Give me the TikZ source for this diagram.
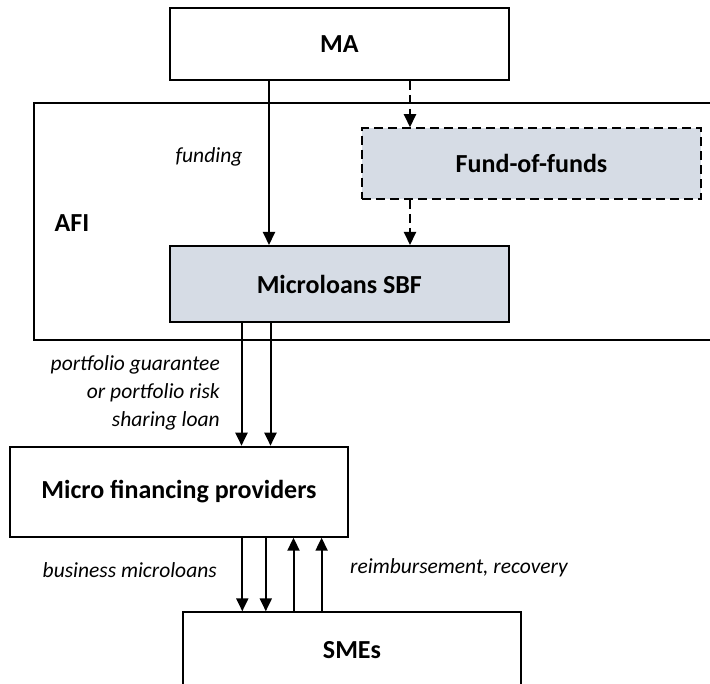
\documentclass[tikz,border=0pt]{standalone}
\usepackage{fontspec}
\setmainfont{Carlito}
\usetikzlibrary{arrows.meta}
\definecolor{boxfill}{HTML}{D6DCE5}
\tikzset{
  box/.style={draw, line width=2pt, rectangle, inner sep=0pt, font=\fontsize{26}{30}\selectfont\bfseries},
  shaded/.style={box, fill=boxfill},
  dashbox/.style={shaded, dash pattern=on 9pt off 5pt},
  arr/.style={line width=2pt, -{Triangle[length=13pt,width=12pt]}},
  dasharr/.style={arr, dash pattern=on 9pt off 5pt},
  note/.style={font=\fontsize{21.5}{28}\selectfont\itshape, inner sep=0pt},
  tag/.style={font=\fontsize{26}{30}\selectfont\bfseries, inner sep=0pt}
}
\begin{document}
\begin{tikzpicture}[x=1pt, y=-1pt]
  \clip (0,0) rectangle (710,684);
  \fill[white] (0,0) rectangle (710,684);

  % boxes
  \node[box, minimum width=338.6pt, minimum height=72pt] (ma) at (339.3,44) {MA};
  \node[box, minimum width=700pt, minimum height=236.7pt] (afi) at (384.4,221.65) {};
  \node[tag] (afilabel) at (72,223) {AFI};
  \node[dashbox, minimum width=339pt, minimum height=70.7pt] (fof) at (531.5,163.6) {Fund-of-funds};
  \node[shaded, minimum width=338.6pt, minimum height=76pt] (sbf) at (339.3,284) {Microloans SBF};
  \node[box, minimum width=338pt, minimum height=90pt] (mfp) at (179,491.7) {Micro financing providers};
  \node[box, minimum width=337.8pt, minimum height=75.4pt] (smes) at (352,650) {SMEs};

  % horizontal positions of the connectors
  \coordinate (xa) at (269,0);
  \coordinate (xb) at (410,0);
  \coordinate (xc) at (241.5,0);
  \coordinate (xd) at (270.5,0);
  \coordinate (xe) at (242.3,0);
  \coordinate (xf) at (265.8,0);
  \coordinate (xg) at (293.5,0);
  \coordinate (xh) at (321.6,0);

  % connectors
  \draw[arr] (ma.south -| xa) -- (sbf.north -| xa);
  \draw[dasharr] (ma.south -| xb) -- (fof.north -| xb);
  \draw[dasharr] (fof.south -| xb) -- (sbf.north -| xb);
  \draw[arr] (sbf.south -| xc) -- (mfp.north -| xc);
  \draw[arr] (sbf.south -| xd) -- (mfp.north -| xd);
  \draw[arr] (mfp.south -| xe) -- (smes.north -| xe);
  \draw[arr] (mfp.south -| xf) -- (smes.north -| xf);
  \draw[arr] (smes.north -| xg) -- (mfp.south -| xg);
  \draw[arr] (smes.north -| xh) -- (mfp.south -| xh);

  % labels
  \node[note] (funding) at (209,157) {funding};
  \node[note, align=right, anchor=east] (guar) at (220,393) {portfolio guarantee\\or portfolio risk\\sharing loan};
  \node[note, anchor=east] (loans) at (217,570) {business microloans};
  \node[note, anchor=west] (repay) at (350,568) {reimbursement, recovery};
\end{tikzpicture}
\end{document}
